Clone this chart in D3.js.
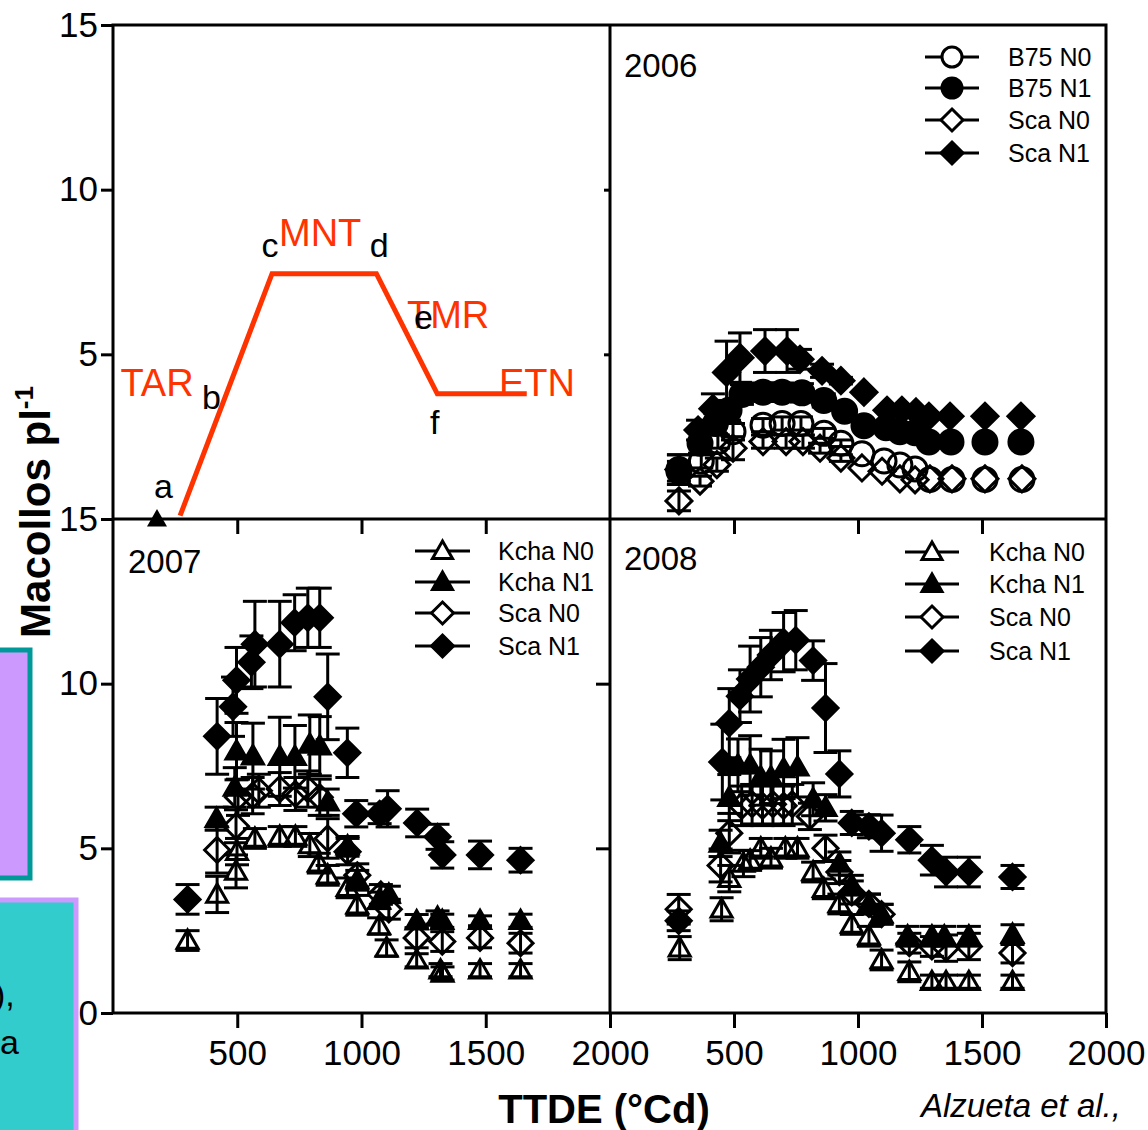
<!DOCTYPE html>
<html>
<head>
<meta charset="utf-8">
<script src="https://cdn.jsdelivr.net/npm/d3@7/dist/d3.min.js"></script>
<style>
body { margin: 0; background: #fff; }
svg text { font-family: "Liberation Sans", Arial, sans-serif; }
</style>
</head>
<body>
<svg id="chart" width="1148" height="1130"></svg>
<script>
// schematic (top-left panel)
const schemX = [270, 640, 1060, 1305, 1665];
const schemY = [0.1, 7.45, 7.45, 3.8, 3.8];
const schemMarker = [177, 0];
// [text, x, y, red?]
const schemLabels = [
  ['TAR', 30, 3.74, true], ['MNT', 668, 8.29, true], ['TMR', 1183, 5.8, true], ['ETN', 1553, 3.74, true],
  ['a', 165, 0.64, false], ['b', 358, 3.34, false], ['c', 598, 7.96, false], ['d', 1033, 7.96, false],
  ['e', 1211, 5.77, false], ['f', 1276, 2.58, false]
];

// 2006 : [TTDE, tallos, error]
const b75N0_06 = [[278,1.45,0.3],[368,1.75,0.2],[435,2.35,0.2],[496,2.65,0.25],[617,2.85,0.2],[694,2.9,0.2],[770,2.9,0.2],[863,2.6,0.15],[931,2.3,0.1],[1016,1.98,0],[1105,1.76,0],[1169,1.64,0],[1230,1.52,0],[1290,1.2,0],[1379,1.2,0],[1512,1.2,0],[1661,1.2,0]];
const b75N1_06 = [[278,1.5,0.45],[363,2.3,0.3],[425,2.9,0.3],[480,3.3,0.3],[532,3.78,0.3],[617,3.85,0.28],[694,3.85,0.28],[774,3.83,0.28],[862,3.6,0.2],[946,3.27,0.1],[1024,2.83,0.1],[1113,2.77,0],[1169,2.65,0],[1230,2.62,0],[1286,2.34,0],[1375,2.34,0],[1512,2.34,0],[1657,2.34,0]];
const scaN0_06 = [[278,0.55,0.3],[363,1.15,0.15],[431,1.65,0.2],[496,2.15,0.35],[617,2.35,0.2],[710,2.35,0.2],[778,2.35,0.2],[847,2.15,0.15],[931,1.85,0.1],[1016,1.55,0],[1097,1.45,0],[1169,1.22,0],[1230,1.19,0],[1290,1.22,0],[1379,1.22,0],[1512,1.22,0],[1661,1.22,0]];
const scaN1_06 = [[278,1.5,0.45],[355,2.7,0.3],[415,3.35,0.45],[470,4.45,0.95],[524,4.9,0.75],[625,5.1,0.65],[714,5.1,0.65],[766,4.85,0.3],[855,4.5,0.2],[931,4.2,0.1],[1024,3.85,0],[1117,3.3,0],[1177,3.3,0],[1234,3.25,0],[1286,3.12,0],[1371,3.12,0],[1512,3.12,0],[1657,3.12,0]];

// 2007
const kchaN0_07 = [[300,2.2,0.3],[419,3.6,0.55],[495,4.3,0.5],[499,4.9,0.4],[571,5.3,0.3],[671,5.36,0.3],[734,5.36,0.3],[792,5.1,0.35],[828,4.55,0.3],[864,4.18,0.3],[944,3.8,0.3],[983,3.27,0.3],[1071,2.64,0.25],[1101,1.97,0.25],[1222,1.6,0.2],[1318,1.3,0.2],[1326,1.2,0.2],[1477,1.3,0.2],[1640,1.3,0.2]];
const kchaN1_07 = [[417,5.9,0.35],[490,6.85,0.6],[497,7.95,0.87],[563,7.8,1.0],[671,7.78,1.2],[732,7.78,0.95],[792,8.15,0.9],[832,8.1,0.9],[864,6.4,0.4],[944,5.06,0.3],[983,4.03,0.3],[1071,3.42,0.25],[1110,3.6,0.25],[1222,2.79,0.2],[1306,2.9,0.2],[1325,2.8,0.2],[1477,2.8,0.15],[1640,2.8,0.2]];
const scaN0_07 = [[419,4.95,0.7],[495,5.67,0.5],[503,6.55,0.55],[562,6.6,0.55],[587,6.75,0.5],[671,6.8,0.5],[734,6.65,0.5],[784,6.8,0.55],[832,6.55,0.55],[864,5.3,0.6],[944,4.9,0.4],[983,4.18,0.35],[1078,3.6,0.3],[1110,3.15,0.3],[1222,2.28,0.3],[1325,2.17,0.3],[1477,2.28,0.3],[1640,2.12,0.3]];
const scaN1_07 = [[300,3.45,0.45],[419,8.4,1.15],[483,9.3,0.9],[497,10.1,1.0],[557,10.65,0.8],[571,11.2,1.3],[671,11.2,1.3],[731,11.85,0.85],[784,12.0,0.9],[832,12.0,0.9],[864,9.6,1.3],[943,7.9,0.75],[979,6.05,0.4],[1073,6.05,0.3],[1105,6.2,0.55],[1224,5.77,0.42],[1306,5.35,0.38],[1325,4.8,0.4],[1477,4.8,0.42],[1640,4.64,0.36]];

// 2008
const kchaN0_08 = [[281,1.97,0.35],[450,3.15,0.35],[481,4.08,0.4],[538,4.54,0.4],[565,4.63,0.3],[608,5.0,0.3],[649,4.7,0.3],[707,5.0,0.3],[756,5.0,0.3],[819,4.28,0.3],[862,3.77,0.3],[925,3.31,0.3],[975,2.69,0.3],[1044,2.33,0.3],[1095,1.61,0.3],[1207,1.25,0.3],[1298,0.95,0.2],[1355,0.95,0.2],[1447,0.95,0.2],[1623,0.95,0.2]];
const kchaN1_08 = [[446,5.15,0.4],[481,6.54,0.7],[516,7.52,0.8],[565,7.52,0.9],[608,7.16,0.85],[649,7.16,0.8],[700,7.41,0.9],[756,7.46,0.9],[819,6.49,0.5],[869,6.23,0.4],[925,4.54,0.35],[975,3.88,0.3],[1044,3.31,0.3],[1095,3.0,0.3],[1200,2.33,0.3],[1298,2.33,0.3],[1348,2.33,0.3],[1447,2.33,0.3],[1623,2.38,0.3]];
const scaN0_08 = [[277,3.15,0.45],[446,4.48,0.5],[481,5.46,0.6],[531,6.29,0.6],[573,6.34,0.6],[615,6.29,0.6],[657,6.34,0.6],[700,6.29,0.6],[735,6.34,0.6],[806,5.97,0.4],[869,5.0,0.4],[925,4.28,0.35],[975,3.66,0.35],[1044,3.31,0.3],[1095,3.0,0.3],[1207,2.12,0.3],[1298,2.02,0.3],[1355,1.97,0.4],[1447,2.02,0.4],[1623,1.82,0.3]];
const scaN1_08 = [[277,2.8,0.3],[453,7.62,1.15],[481,8.8,1.05],[524,9.62,0.8],[565,10.14,1.0],[608,10.5,0.9],[649,10.87,0.75],[700,11.26,0.9],[749,11.32,0.9],[819,10.7,0.6],[869,9.26,1.35],[925,7.26,0.7],[975,5.77,0.35],[1044,5.67,0.35],[1095,5.46,0.55],[1207,5.26,0.4],[1298,4.64,0.45],[1355,4.28,0.45],[1447,4.28,0.45],[1623,4.13,0.35]];

const xTicks = [500, 1000, 1500, 2000];
const yTicks = [0, 5, 10, 15];

const svg = d3.select('#chart');
const RED = '#ff3300';

const xL = d3.scaleLinear().domain([0, 2000]).range([113, 610]);
const xR = d3.scaleLinear().domain([0, 2000]).range([610, 1106]);
const yT = d3.scaleLinear().domain([0, 15]).range([519, 25]);
const yB = d3.scaleLinear().domain([0, 15]).range([1013, 519]);

// side boxes (slide background)
svg.append('rect').attr('x', -10).attr('y', 650).attr('width', 40).attr('height', 228)
  .attr('fill', '#cc99ff').attr('stroke', '#009999').attr('stroke-width', 5);
svg.append('rect').attr('x', -10).attr('y', 900).attr('width', 86).attr('height', 240)
  .attr('fill', '#33cccc').attr('stroke', '#cc99ff').attr('stroke-width', 5);
svg.append('text').attr('x', -6).attr('y', 1006).attr('font-size', 34).text('),');
svg.append('text').attr('x', 0).attr('y', 1054).attr('font-size', 34).text('a');

function markerPath(shape, s) {
  if (shape === 'circle') return `M${-s},0A${s},${s} 0 1,0 ${s},0A${s},${s} 0 1,0 ${-s},0Z`;
  if (shape === 'diamond') return `M0,${-s}L${s},0L0,${s}L${-s},0Z`;
  const h = s * 0.87;
  return `M0,${-h * 1.15}L${s},${h * 0.85}L${-s},${h * 0.85}Z`;
}

function drawSeries(x, y, data, shape, filled, size) {
  const g = svg.append('g');
  const eb = data.filter(d => d[2] > 0);
  g.selectAll('.eb').data(eb).enter().append('line')
    .attr('x1', d => x(d[0])).attr('x2', d => x(d[0]))
    .attr('y1', d => y(d[1] - d[2])).attr('y2', d => y(d[1] + d[2]))
    .attr('stroke', '#000').attr('stroke-width', 3);
  [1, -1].forEach(sgn => {
    g.selectAll('.cap' + sgn).data(eb).enter().append('line')
      .attr('x1', d => x(d[0]) - 12).attr('x2', d => x(d[0]) + 12)
      .attr('y1', d => y(d[1] + sgn * d[2])).attr('y2', d => y(d[1] + sgn * d[2]))
      .attr('stroke', '#000').attr('stroke-width', 3);
  });
  g.selectAll('path').data(data).enter().append('path')
    .attr('transform', d => `translate(${x(d[0])},${y(d[1])})`)
    .attr('d', markerPath(shape, size))
    .attr('fill', filled ? '#000' : 'none')
    .attr('stroke', '#000').attr('stroke-width', 3);
}

function drawLegend(items, x1, x2, tx, rows) {
  items.forEach((it, i) => {
    const yy = rows[i];
    svg.append('line').attr('x1', x1).attr('x2', x2).attr('y1', yy).attr('y2', yy)
      .attr('stroke', '#000').attr('stroke-width', 3);
    svg.append('path').attr('transform', `translate(${(x1 + x2) / 2},${yy})`)
      .attr('d', markerPath(it.shape, it.shape === 'diamond' ? 11 : 10))
      .attr('fill', it.filled ? '#000' : '#fff').attr('stroke', '#000').attr('stroke-width', 3);
    svg.append('text').attr('x', tx).attr('y', yy).attr('dy', '0.36em')
      .attr('font-size', 25).text(it.label);
  });
}

// schematic
const schem = schemX.map((v, i) => [v, schemY[i]]);
svg.append('path').datum(schem)
  .attr('d', d3.line().x(d => xL(d[0])).y(d => yT(d[1])))
  .attr('fill', 'none').attr('stroke', RED).attr('stroke-width', 5);
svg.append('path').attr('transform', `translate(${xL(schemMarker[0])},${yT(schemMarker[1])})`)
  .attr('d', markerPath('triangle', 10)).attr('fill', '#000');
schemLabels.forEach(l => {
  svg.append('text').attr('x', xL(l[1])).attr('y', yT(l[2]))
    .attr('font-size', l[3] ? 38 : 34).attr('fill', l[3] ? RED : '#000').text(l[0]);
});

// series
drawSeries(xR, yT, scaN0_06, 'diamond', false, 13);
drawSeries(xR, yT, b75N0_06, 'circle', false, 12);
drawSeries(xR, yT, scaN1_06, 'diamond', true, 13);
drawSeries(xR, yT, b75N1_06, 'circle', true, 12);

drawSeries(xL, yB, kchaN0_07, 'triangle', false, 10.5);
drawSeries(xL, yB, scaN0_07, 'diamond', false, 12.5);
drawSeries(xL, yB, kchaN1_07, 'triangle', true, 10.5);
drawSeries(xL, yB, scaN1_07, 'diamond', true, 12.5);

drawSeries(xR, yB, kchaN0_08, 'triangle', false, 10.5);
drawSeries(xR, yB, scaN0_08, 'diamond', false, 12.5);
drawSeries(xR, yB, kchaN1_08, 'triangle', true, 10.5);
drawSeries(xR, yB, scaN1_08, 'diamond', true, 12.5);

// frame
svg.append('rect').attr('x', 113).attr('y', 25).attr('width', 993).attr('height', 988)
  .attr('fill', 'none').attr('stroke', '#000').attr('stroke-width', 3);
svg.append('line').attr('x1', 610).attr('x2', 610).attr('y1', 25).attr('y2', 1013)
  .attr('stroke', '#000').attr('stroke-width', 3);
svg.append('line').attr('x1', 113).attr('x2', 1106).attr('y1', 519).attr('y2', 519)
  .attr('stroke', '#000').attr('stroke-width', 3);

function styleAxis(g) {
  g.select('.domain').remove();
  g.selectAll('line').attr('stroke', '#000').attr('stroke-width', 3);
  g.attr('font-family', '"Liberation Sans", Arial, sans-serif').attr('font-size', 35);
  g.selectAll('text').attr('fill', '#000');
}

// y axes
svg.append('g').attr('transform', 'translate(113,0)')
  .call(d3.axisLeft(yT).tickValues(yTicks.slice(1)).tickSize(12).tickPadding(3)).call(styleAxis);
svg.append('g').attr('transform', 'translate(113,0)')
  .call(d3.axisLeft(yB).tickValues(yTicks).tickSize(12).tickPadding(3)).call(styleAxis);
svg.append('g').attr('transform', 'translate(610,0)')
  .call(d3.axisLeft(yT).tickValues([5, 10]).tickSize(6).tickFormat('')).call(styleAxis);
svg.append('g').attr('transform', 'translate(610,0)')
  .call(d3.axisLeft(yB).tickValues([5, 10]).tickSize(14).tickFormat('')).call(styleAxis);

// x axes
[xL, xR].forEach(xs => {
  svg.append('g').attr('transform', 'translate(0,519)')
    .call(d3.axisBottom(xs).tickValues(xTicks.slice(0, 3)).tickSize(15).tickFormat('')).call(styleAxis);
  svg.append('g').attr('transform', 'translate(0,1013)')
    .call(d3.axisBottom(xs).tickValues(xTicks).tickSize(15).tickPadding(12).tickFormat(d3.format('d'))).call(styleAxis);
});

// panel years
svg.append('text').attr('x', 624).attr('y', 77).attr('font-size', 33).text('2006');
svg.append('text').attr('x', 128).attr('y', 573).attr('font-size', 33).text('2007');
svg.append('text').attr('x', 624).attr('y', 570).attr('font-size', 33).text('2008');

// legends
drawLegend([
  { label: 'B75 N0', shape: 'circle', filled: false },
  { label: 'B75 N1', shape: 'circle', filled: true },
  { label: 'Sca N0', shape: 'diamond', filled: false },
  { label: 'Sca N1', shape: 'diamond', filled: true }
], 925, 979, 1008, [57, 88, 120, 153]);
const kchaLegend = [
  { label: 'Kcha N0', shape: 'triangle', filled: false },
  { label: 'Kcha N1', shape: 'triangle', filled: true },
  { label: 'Sca N0', shape: 'diamond', filled: false },
  { label: 'Sca N1', shape: 'diamond', filled: true }
];
drawLegend(kchaLegend, 415, 470, 498, [551, 582, 613, 646]);
drawLegend(kchaLegend, 905, 959, 989, [552, 584, 617, 651]);

// axis titles
const yt = svg.append('text').attr('transform', 'translate(50,512) rotate(-90)')
  .attr('text-anchor', 'middle').attr('font-size', 42).attr('font-weight', 'bold');
yt.append('tspan').text('Macollos pl');
yt.append('tspan').attr('dy', -17).attr('font-size', 26).text('-1');

svg.append('text').attr('x', 604).attr('y', 1123).attr('text-anchor', 'middle')
  .attr('font-size', 40).attr('font-weight', 'bold').text('TTDE (°Cd)');
svg.append('text').attr('x', 921).attr('y', 1117).attr('font-size', 33)
  .attr('font-style', 'italic').text('Alzueta et al.,');
</script>
</body>
</html>
